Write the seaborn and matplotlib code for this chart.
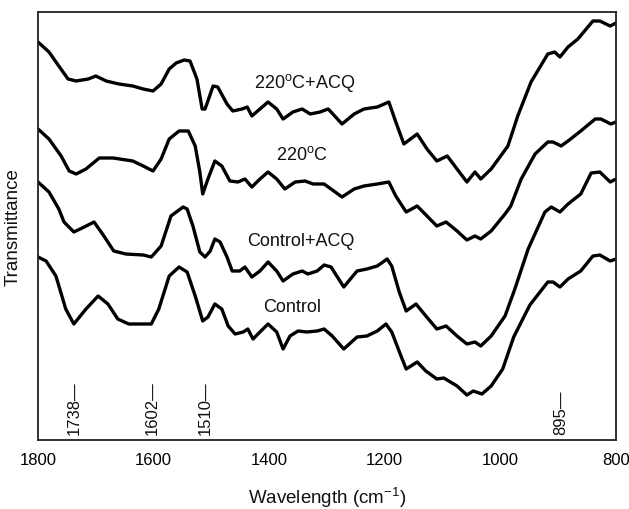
import matplotlib
matplotlib.use("Agg")
import matplotlib.pyplot as plt
import seaborn as sns
import pandas as pd

# ---- data (wavenumber cm-1, transmittance a.u.) ----
w_acq220 = [1800,1781,1764,1748,1734,1713,1700,1682,1660,1636,1618,1601,1587,1573,1561,1547,1537,1525,1516,1511,
            1497,1489,1473,1463,1447,1438,1430,1416,1402,1387,1376,1359,1343,1329,1312,1298,1293,1274,1253,1236,
            1213,1193,1181,1167,1144,1127,1110,1092,1075,1058,1044,1034,1016,987,970,947,918,906,897,883,866,840,828,810,800]
t_acq220 = [398,388,374,361,359,361,364,359,356,354,351,349,356,371,377,380,379,361,331,331,
            354,353,336,329,331,333,324,331,338,331,321,328,331,326,328,331,328,316,326,331,
            333,338,318,296,306,291,279,284,271,258,268,261,271,294,324,358,386,388,383,393,401,419,419,414,417]

w_t220 = [1800,1781,1760,1746,1734,1717,1694,1670,1636,1618,1601,1587,1573,1556,1540,1528,1520,1515,1506,1494,
          1482,1468,1454,1442,1430,1416,1402,1387,1373,1355,1338,1324,1305,1293,1274,1253,1236,1213,1193,1181,
          1163,1144,1127,1110,1094,1075,1058,1044,1034,1016,992,982,964,940,918,909,895,883,861,836,826,809,800]
t_t220 = [311,301,284,269,266,271,282,282,279,274,269,281,301,309,309,294,268,246,261,279,
          274,259,258,261,253,261,268,261,251,258,259,256,256,251,243,251,254,256,258,244,
          228,234,224,214,218,209,200,204,201,209,226,234,261,286,298,298,294,299,309,321,321,316,318]

w_ctrl_acq = [1800,1781,1764,1755,1738,1720,1703,1686,1669,1648,1618,1604,1587,1570,1549,1542,1532,1520,1511,1502,
              1494,1485,1473,1464,1451,1442,1430,1416,1402,1387,1376,1359,1343,1333,1317,1305,1293,1271,1248,1231,
              1213,1196,1188,1175,1163,1146,1129,1110,1094,1075,1058,1044,1034,1016,992,975,952,923,912,897,
              883,861,843,828,810,800]
t_ctrl_acq = [258,248,231,218,208,213,218,204,189,186,185,183,194,224,233,231,214,188,183,189,
              201,198,183,169,169,173,163,169,178,169,159,166,169,166,169,175,173,153,169,171,
              174,181,174,148,129,136,124,111,114,104,96,98,94,104,124,151,191,228,233,228,
              236,246,267,268,258,261]

w_ctrl = [1800,1786,1769,1752,1738,1717,1696,1679,1662,1643,1613,1604,1591,1573,1556,1542,1528,1515,1506,1494,
          1482,1471,1459,1445,1437,1428,1416,1402,1387,1376,1364,1350,1335,1317,1305,1291,1271,1248,1231,1213,
          1198,1188,1172,1163,1144,1129,1110,1098,1075,1058,1047,1032,1016,996,977,949,918,909,897,883,
          861,840,828,810,800]
t_ctrl = [183,179,164,131,116,131,144,136,121,116,116,116,131,164,173,168,144,119,123,136,
          131,114,106,108,111,101,108,116,108,91,104,109,108,109,111,104,91,103,104,109,
          116,108,84,71,78,69,61,62,54,45,49,46,54,71,103,135,158,158,153,161,
          169,184,185,179,181]

series_names = ["220$^{\\rm o}$C+ACQ", "220$^{\\rm o}$C", "Control+ACQ", "Control"]
label_pos_w = [1338, 1343, 1345, 1361]
label_pos_t = [358, 286, 199, 134]

band_labels = ["1738", "1602", "1510", "895"]
band_pos = [1738, 1602, 1510, 895]

xticks_major = [1800, 1600, 1400, 1200, 1000, 800]
xticks_minor = [1700, 1500, 1300, 1100, 900]

# ---- build table ----
frames = []
for name, w, t in zip(series_names,
                      [w_acq220, w_t220, w_ctrl_acq, w_ctrl],
                      [t_acq220, t_t220, t_ctrl_acq, t_ctrl]):
    frames.append(pd.DataFrame({"wavenumber": w, "T": t, "sample": name}))
df = pd.concat(frames, ignore_index=True)

sns.set_theme(style="white")
plt.rcParams["font.family"] = ["Liberation Sans", "DejaVu Sans"]
plt.rcParams["mathtext.fontset"] = "custom"
plt.rcParams["mathtext.rm"] = "Liberation Sans"
plt.rcParams["lines.solid_joinstyle"] = "round"
plt.rcParams["lines.solid_capstyle"] = "round"

fig = plt.figure(figsize=(6.29, 5.10), dpi=100)
ax = fig.add_axes([38/629, (510-441)/510, (616-38)/629, (441-13)/510])

sns.lineplot(data=df, x="wavenumber", y="T", units="sample", estimator=None,
             sort=False, color="black", linewidth=2.4, ax=ax, legend=False)

ax.set_xlim(1800, 800)
ax.set_ylim(0, 428)
ax.set_yticks([])
ax.set_xticks(xticks_major)
ax.set_xticks(xticks_minor, minor=True)
ax.tick_params(axis="x", which="major", direction="out", length=4, width=1.2,
               labelsize=12, pad=5, colors="black")
ax.tick_params(axis="x", which="minor", direction="in", length=4, width=1.2, colors="black")
ax.set_xticklabels([str(v) for v in xticks_major])

for s in ax.spines.values():
    s.set_visible(True)
    s.set_color("#222222")
    s.set_linewidth(1.3)

for name, xw, yt in zip(series_names, label_pos_w, label_pos_t):
    ax.text(xw, yt, name, ha="center", va="center", fontsize=13, color="#111111")

for lab, pos in zip(band_labels, band_pos):
    ax.text(pos, 6, lab + "\u2014", rotation=90, ha="center", va="bottom",
            fontsize=12, color="#111111")

ax.set_xlabel("Wavelength (cm$^{-1}$)", fontsize=13.5, color="#111111")
ax.xaxis.set_label_coords(0.5, -0.103)
ax.set_ylabel("Transmittance", fontsize=13.5, color="#111111")
ax.yaxis.set_label_coords(-0.028, 0.5)

fig.savefig("out.png", dpi=100)
